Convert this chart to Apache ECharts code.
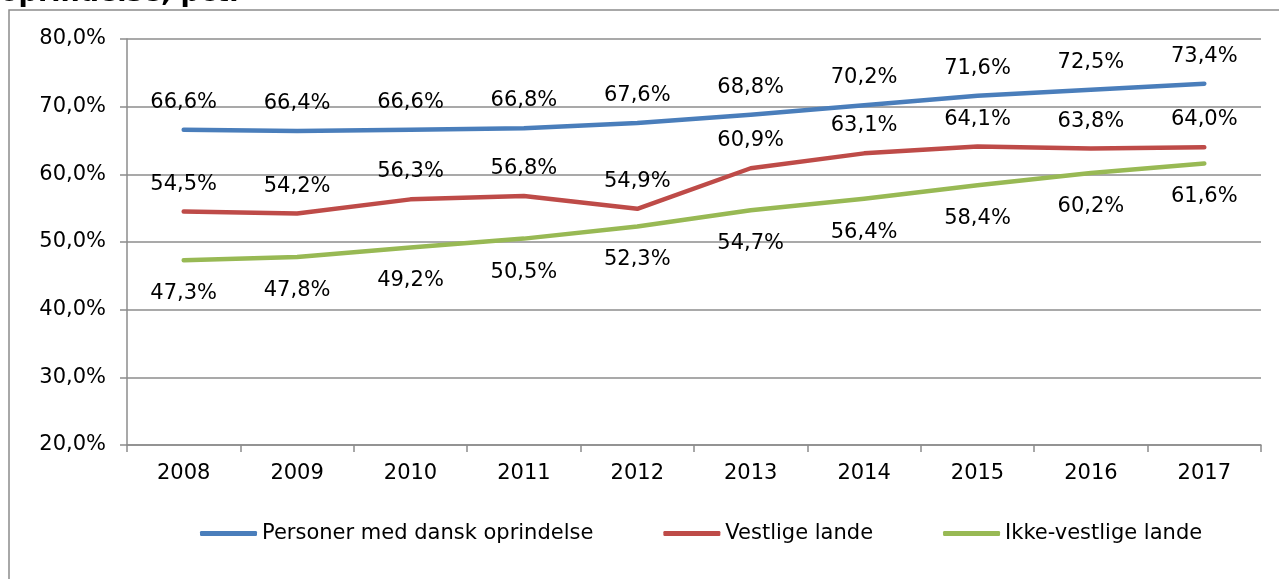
<!DOCTYPE html>
<html>
<head>
<meta charset="utf-8">
<script src="https://cdn.jsdelivr.net/npm/echarts@6/dist/echarts.min.js"></script>
<style>html,body{margin:0;padding:0;background:#fff;}#c{width:1279px;height:579px;}</style>
</head>
<body>
<div id="c"></div>
<script>
const categories = ['2008','2009','2010','2011','2012','2013','2014','2015','2016','2017'];
const dansk = [66.6,66.4,66.6,66.8,67.6,68.8,70.2,71.6,72.5,73.4];
const vestlige = [54.5,54.2,56.3,56.8,54.9,60.9,63.1,64.1,63.8,64.0];
const ikkeVestlige = [47.3,47.8,49.2,50.5,52.3,54.7,56.4,58.4,60.2,61.6];
const seriesNames = ['Personer med dansk oprindelse','Vestlige lande','Ikke-vestlige lande'];
const colors = ['#4a7ebb','#be4b48','#98b954'];
const titleText = 'oprindelse, pct.';

const fmt = v => v.toFixed(1).replace('.', ',') + '%';
const font = 'DejaVu Sans';
const fs = 21;

function mkSeries(name, data, color, pos, dist) {
  return {
    name, type: 'line', data,
    symbol: 'circle', symbolSize: 0,
    lineStyle: { color, width: 4.5, cap: 'round', join: 'round' },
    itemStyle: { color },
    label: {
      show: true, position: pos, distance: dist,
      color: '#000', fontFamily: font, fontSize: fs,
      formatter: p => fmt(p.value)
    },
    emphasis: { disabled: true },
    animation: false
  };
}

const chart = echarts.init(document.getElementById('c'), null, { renderer: 'canvas' });
chart.setOption({
  animation: false,
  graphic: [
    { type: 'rect', shape: { x: 9, y: 10, width: 1300, height: 620 }, style: { fill: 'none', stroke: '#8c8c8c', lineWidth: 1.5 }, z: -1 },
    { type: 'text', x: 0, y: 7, style: { text: titleText, font: 'bold 27px "DejaVu Sans"', fill: '#000', verticalAlign: 'bottom' } }
  ],
  grid: { left: 127, right: 18, top: 39, bottom: 134, containLabel: false },
  legend: {
    left: 195, top: 518,
    itemWidth: 57, itemHeight: 5, itemGap: 70,
    icon: 'roundRect',
    textStyle: { fontFamily: font, fontSize: fs, color: '#000' },
    data: seriesNames.map((n, i) => ({ name: n, itemStyle: { color: colors[i] } })),
    selectedMode: false
  },
  xAxis: {
    type: 'category', data: categories, boundaryGap: true,
    axisLine: { lineStyle: { color: '#8c8c8c', width: 1.5 } },
    axisTick: { show: true, length: 7, lineStyle: { color: '#8c8c8c', width: 1.5 } },
    axisLabel: { color: '#000', fontFamily: font, fontSize: fs, margin: 18 }
  },
  yAxis: {
    type: 'value', min: 20, max: 80, interval: 10,
    axisLine: { show: true, lineStyle: { color: '#8c8c8c', width: 1.5 } },
    axisTick: { show: true, length: 7, lineStyle: { color: '#8c8c8c', width: 1.5 } },
    splitLine: { lineStyle: { color: '#8c8c8c', width: 1.5 } },
    axisLabel: { color: '#000', fontFamily: font, fontSize: fs, margin: 21, formatter: v => v.toFixed(1).replace('.', ',') + '%' }
  },
  series: [
    mkSeries(seriesNames[0], dansk, colors[0], 'top', 17),
    mkSeries(seriesNames[1], vestlige, colors[1], 'top', 17),
    mkSeries(seriesNames[2], ikkeVestlige, colors[2], 'bottom', 23)
  ]
});
</script>
</body>
</html>
